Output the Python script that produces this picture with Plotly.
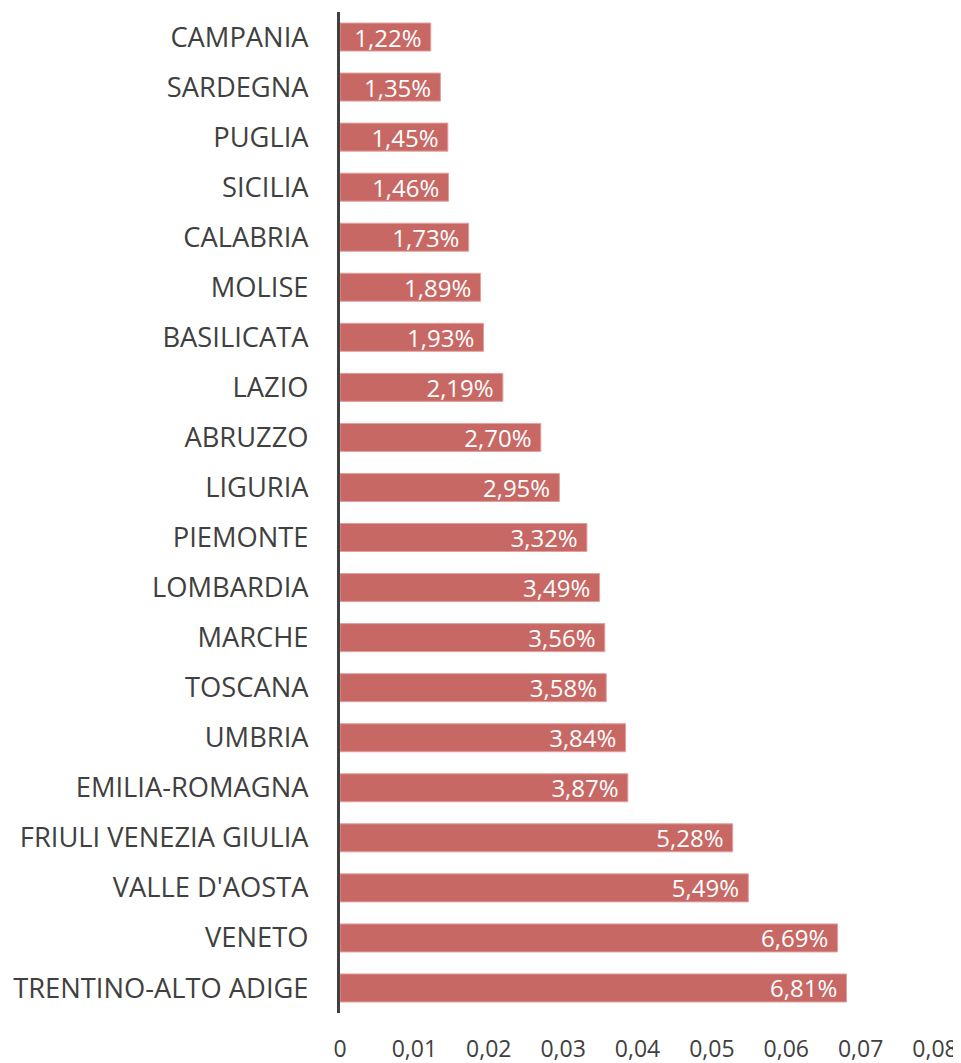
import plotly.graph_objects as go

regions = ["CAMPANIA", "SARDEGNA", "PUGLIA", "SICILIA", "CALABRIA", "MOLISE",
           "BASILICATA", "LAZIO", "ABRUZZO", "LIGURIA", "PIEMONTE", "LOMBARDIA",
           "MARCHE", "TOSCANA", "UMBRIA", "EMILIA-ROMAGNA", "FRIULI VENEZIA GIULIA",
           "VALLE D'AOSTA", "VENETO", "TRENTINO-ALTO ADIGE"]
values = [0.0122, 0.0135, 0.0145, 0.0146, 0.0173, 0.0189, 0.0193, 0.0219, 0.0270,
          0.0295, 0.0332, 0.0349, 0.0356, 0.0358, 0.0384, 0.0387, 0.0528, 0.0549,
          0.0669, 0.0681]
tick_vals = [0, 0.01, 0.02, 0.03, 0.04, 0.05, 0.06, 0.07, 0.08]
tick_text = ["0", "0,01", "0,02", "0,03", "0,04", "0,05", "0,06", "0,07", "0,08"]

labels = [f"{v*100:.2f}%".replace(".", ",") + "\u00a0" for v in values]

fig = go.Figure(go.Bar(
    x=values, y=regions, orientation="h",
    marker=dict(color="rgb(200,104,101)", line=dict(color="rgb(225,160,158)", width=1)),
    width=0.56,
    text=labels, textposition="inside", insidetextanchor="end",
    constraintext="none",
    textfont=dict(color="white", size=24, family="Open Sans"),
    cliponaxis=False,
))

fig.update_layout(
    width=953, height=1055,
    margin=dict(l=332, r=26, t=4, b=50, autoexpand=False),
    plot_bgcolor="white", paper_bgcolor="white",
    font=dict(family="Open Sans", color="#404040"),
    showlegend=False,
)
fig.update_xaxes(range=[0, 0.08], tickvals=tick_vals, ticktext=tick_text,
                 showgrid=False, zeroline=False, showline=False, automargin=False,
                 ticks="outside", ticklen=15, tickcolor="rgba(0,0,0,0)",
                 tickfont=dict(size=23, color="#404040"))
fig.update_yaxes(range=[19.5, -0.5], showgrid=False, zeroline=False, automargin=False,
                 showline=True, linecolor="#404040", linewidth=3,
                 ticks="outside", ticklen=23, tickcolor="rgba(0,0,0,0)",
                 tickfont=dict(size=27.3, color="#404040"))

fig.write_html("out.html")
